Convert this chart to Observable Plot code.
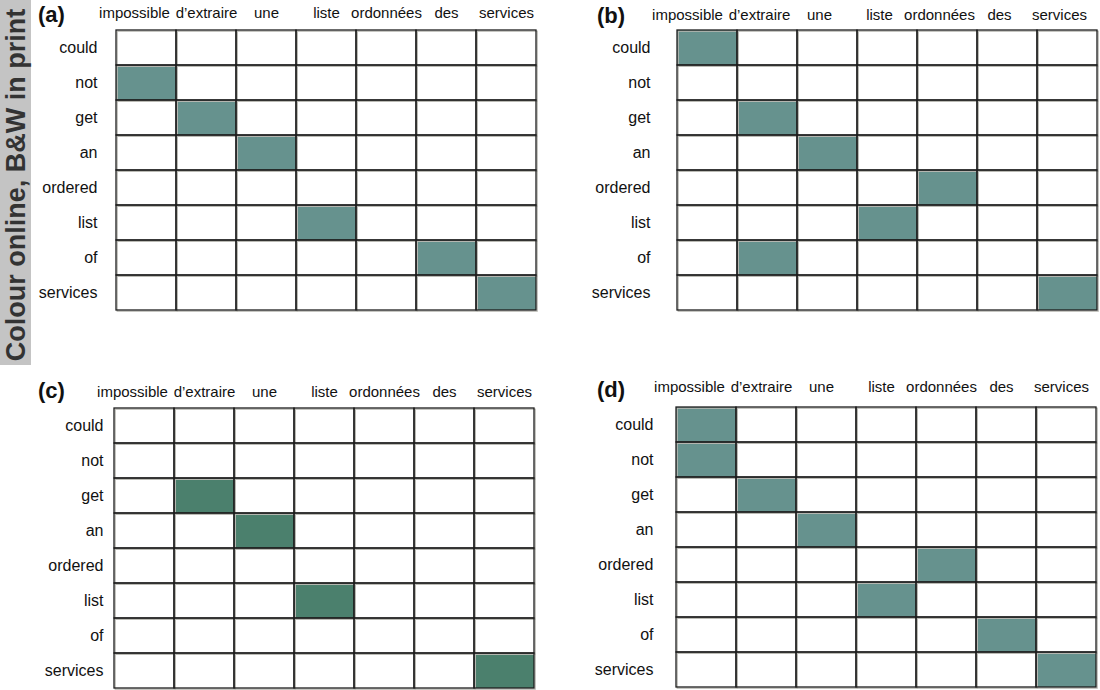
<!DOCTYPE html>
<html><head><meta charset="utf-8">
<script src="https://cdn.jsdelivr.net/npm/d3@7"></script>
<script src="https://cdn.jsdelivr.net/npm/@observablehq/plot@0.6"></script>
<style>
html,body{margin:0;padding:0;background:#fff;overflow:hidden;width:1100px;height:690px;}
body{position:relative;font-family:"Liberation Sans",Arial,Helvetica,sans-serif;}
.panel{position:absolute;}
.tag{position:absolute;font-weight:bold;font-size:22px;color:#111;line-height:1;}
#side{position:absolute;left:0;top:0;width:31px;height:365px;background:#c4c4c4;z-index:5;}
#side span{position:absolute;left:16px;top:185px;transform:translate(-50%,-50%) rotate(-90deg);white-space:nowrap;font-weight:bold;font-size:27px;color:#333;line-height:1;}
</style></head><body>
<div id="pa" class="panel" style="left:0;top:0;width:545px;"></div>
<div id="pb" class="panel" style="left:560px;top:0;width:540px;"></div>
<div id="pc" class="panel" style="left:0;top:378px;width:545px;"></div>
<div id="pd" class="panel" style="left:560px;top:377px;width:540px;"></div>
<div class="tag" style="left:38px;top:4px;">(a)</div>
<div class="tag" style="left:597px;top:5px;">(b)</div>
<div class="tag" style="left:38px;top:380px;">(c)</div>
<div class="tag" style="left:597px;top:379px;">(d)</div>
<div id="side"><span>Colour online, B&amp;W in print</span></div>
<script>
const frenchWords = ["impossible", "d’extraire", "une", "liste", "ordonnées", "des", "services"];
const englishWords = ["could", "not", "get", "an", "ordered", "list", "of", "services"];
// French word aligned to each English word ("" = no alignment)
const alignA = ["", "impossible", "d’extraire", "une", "", "liste", "des", "services"];
const alignB = ["impossible", "", "d’extraire", "une", "ordonnées", "liste", "d’extraire", "services"];
const alignC = ["", "", "d’extraire", "une", "", "liste", "", "services"];
const alignD = ["impossible", "impossible", "d’extraire", "une", "ordonnées", "liste", "des", "services"];

function makeCells(align) {
  const out = [];
  englishWords.forEach((en, i) => {
    frenchWords.forEach(fr => out.push({en, fr, on: align[i] === fr}));
  });
  return out;
}

function panel(align, o) {
  const cells = makeCells(align);
  const gridW = 423, gridH = 284;
  return Plot.plot({
    width: o.width, height: o.height,
    marginLeft: o.mLeft, marginTop: o.mTop,
    marginRight: o.width - o.mLeft - gridW,
    marginBottom: o.height - o.mTop - gridH,
    x: {domain: frenchWords, padding: 0, axis: null},
    y: {domain: englishWords, padding: 0, axis: null},
    color: {type: "identity"},
    style: {fontFamily: '"Liberation Sans", Arial, Helvetica, sans-serif', fontSize: "15px", color: "#111", background: "transparent", overflow: "visible"},
    marks: [
      Plot.cell(cells, {x: "fr", y: "en", fill: d => d.on ? o.fill : "white", inset: 0}),
      Plot.cell(cells, {x: "fr", y: "en", fill: "none", stroke: "#b8b8b2", strokeWidth: 1.2, inset: 0, dx: 1.2, dy: 1.2}),
      Plot.cell(cells, {x: "fr", y: "en", fill: "none", stroke: "#1e1e1e", strokeWidth: 1.3, inset: 0}),
      Plot.axisX(frenchWords.slice(1), {anchor: "top", tickSize: 0, tickPadding: o.xPad, dx: o.xShift, label: null, fontSize: 15}),
      Plot.axisX(frenchWords.slice(0, 1), {anchor: "top", tickSize: 0, tickPadding: o.xPad, dx: o.xShift - 12, label: null, fontSize: 15}),
      Plot.axisY({anchor: "left", tickSize: 0, tickPadding: o.yPad, label: null, fontSize: 16})
    ]
  });
}

document.getElementById("pa").append(panel(alignA, {width: 545, height: 320, mLeft: 114, mTop: 28, xPad: 11, xShift: 0, yPad: 17, fill: "#66928e"}));
document.getElementById("pb").append(panel(alignB, {width: 540, height: 320, mLeft: 115, mTop: 28, xPad: 9, xShift: -8, yPad: 25, fill: "#66928e"}));
document.getElementById("pc").append(panel(alignC, {width: 545, height: 320, mLeft: 112, mTop: 28, xPad: 10, xShift: 0, yPad: 9, fill: "#4b806d"}));
document.getElementById("pd").append(panel(alignD, {width: 540, height: 320, mLeft: 114, mTop: 28, xPad: 14, xShift: -5, yPad: 21, fill: "#66928e"}));
</script>
</body></html>
